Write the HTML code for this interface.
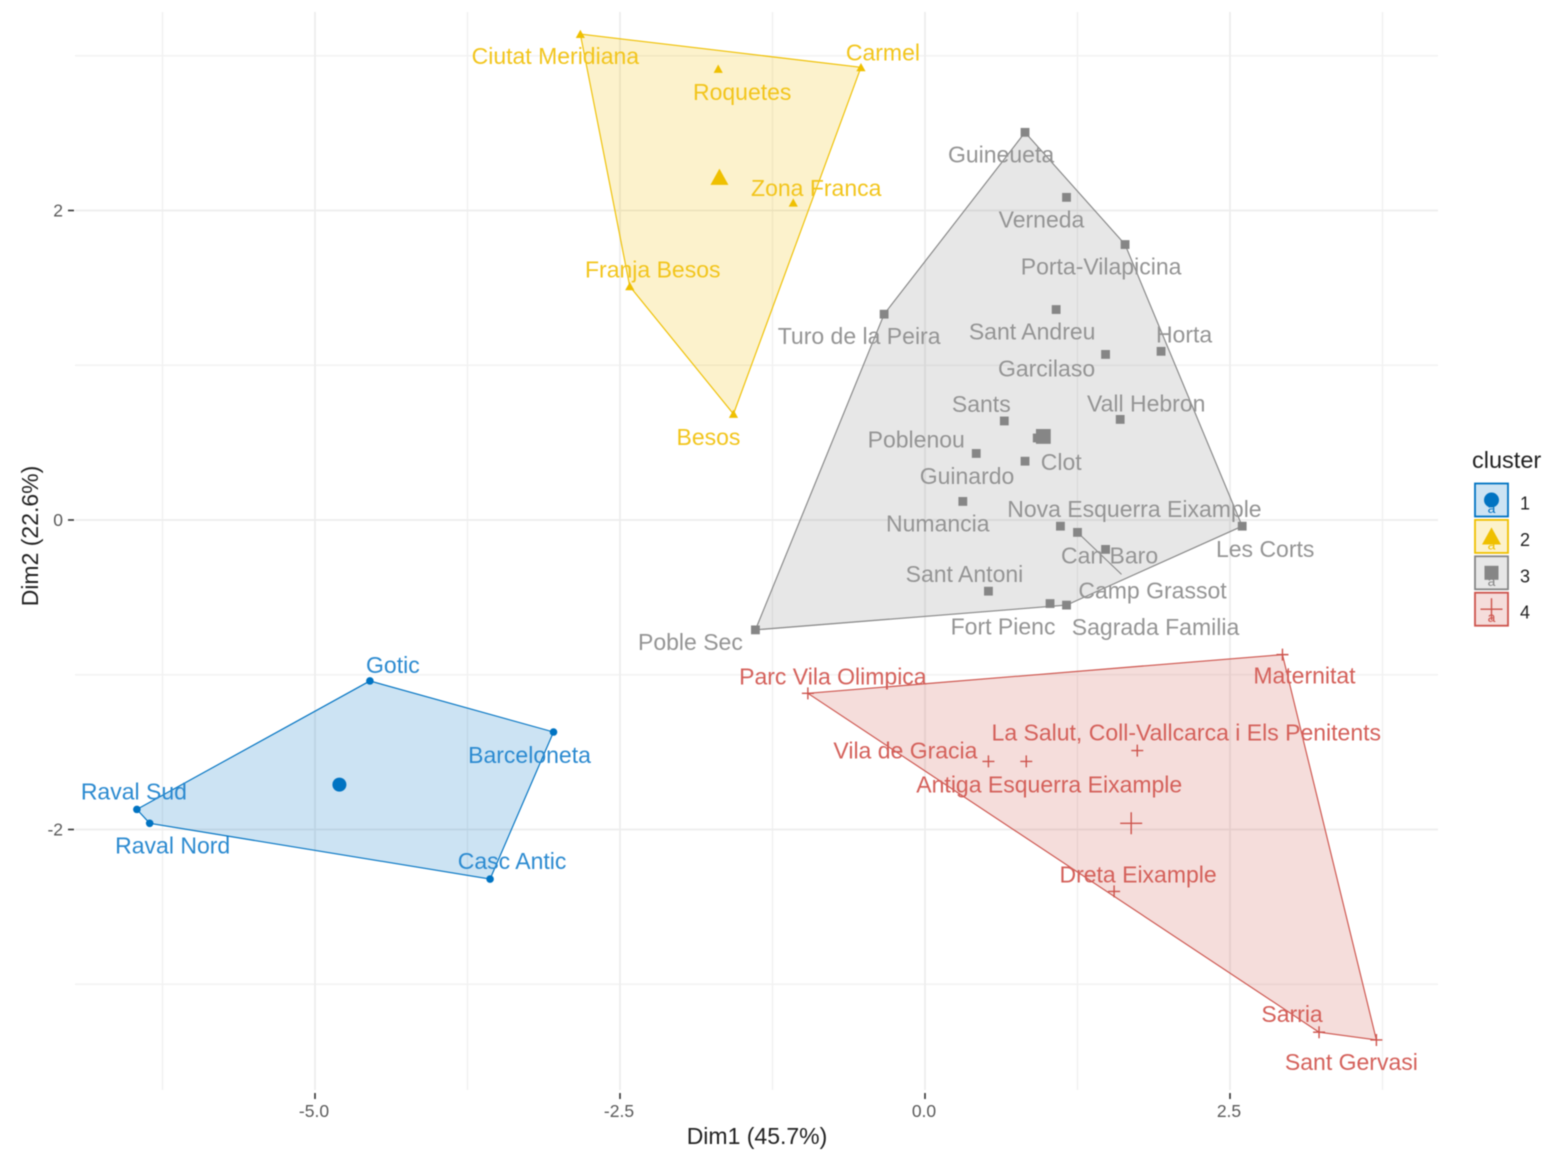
<!DOCTYPE html>
<html>
<head>
<meta charset="utf-8">
<style>
html,body{margin:0;padding:0;background:#fff;width:1549px;height:1150px;overflow:hidden}
svg{display:block;filter:blur(0.55px);font-family:"Liberation Sans",sans-serif}
</style>
</head>
<body>
<svg id="chart" xmlns="http://www.w3.org/2000/svg" width="1549" height="1150" viewBox="0 0 1549 1150"></svg>
<script>
// Cluster 1
const names1 = ["Gotic","Barceloneta","Casc Antic","Raval Nord","Raval Sud"];
const dim1c1 = [-4.55,-3.045,-3.565,-6.355,-6.46];
const dim2c1 = [-1.04,-1.37,-2.32,-1.96,-1.87];
// Cluster 2
const names2 = ["Ciutat Meridiana","Carmel","Roquetes","Zona Franca","Franja Besos","Besos"];
const dim1c2 = [-2.825,-0.525,-1.695,-1.08,-2.42,-1.57];
const dim2c2 = [3.14,2.925,2.915,2.05,1.51,0.685];
// Cluster 3
const names3 = ["Guineueta","Verneda","Porta-Vilapicina","Turo de la Peira","Sant Andreu","Garcilaso","Horta","Sants","Vall Hebron","Poblenou","Clot","Guinardo","Numancia","Nova Esquerra Eixample","Camp Grassot","Can Baro","Les Corts","Sant Antoni","Fort Pienc","Sagrada Familia","Poble Sec"];
const dim1c3 = [0.82,1.16,1.64,-0.335,1.075,1.48,1.935,0.65,1.60,0.42,0.92,0.82,0.31,1.11,1.25,1.48,2.60,0.52,1.025,1.16,-1.39];
const dim2c3 = [2.505,2.085,1.78,1.33,1.36,1.07,1.09,0.64,0.65,0.43,0.53,0.38,0.12,-0.04,-0.08,-0.19,-0.04,-0.46,-0.54,-0.55,-0.71];
// Cluster 4
const names4 = ["Parc Vila Olimpica","Maternitat","La Salut, Coll-Vallcarca i Els Penitents","Vila de Gracia","Antiga Esquerra Eixample","Dreta Eixample","Sarria","Sant Gervasi"];
const dim1c4 = [-0.96,2.93,1.74,0.52,0.83,1.55,3.23,3.70];
const dim2c4 = [-1.12,-0.87,-1.49,-1.56,-1.56,-2.40,-3.31,-3.36];
// Cluster centres
const centerDim1 = [-4.80,-1.685,0.97,1.69];
const centerDim2 = [-1.71,2.215,0.54,-1.96];
// Axis ticks
const xTickValues = [-5,-2.5,0,2.5];
const xTickLabels = ["-5.0","-2.5","0.0","2.5"];
const yTickValues = [-2,0,2];
const yTickLabels = ["-2","0","2"];
const xMinorValues = [-6.25,-3.75,-1.25,1.25,3.75];
const yMinorValues = [-3,-1,1,3];
const clusterIds = ["1","2","3","4"];
</script>
<script>
const NS = "http://www.w3.org/2000/svg";
const svg = document.getElementById("chart");
const PANEL = {l:75, r:1438, t:12, b:1090};
const xScale = v => 925 + v * 122;
const yScale = v => 520 - v * 154.75;
const colors = ["#0073C2","#EFC000","#868686","#CD534C"];
const textColors = ["#2b8ad0","#f2c51c","#949494","#d4605a"];

// Label displacement from its point, in pixels (repel layout)
const offsets1 = [[23,-16],[-24,23],[22,-18],[23,22],[-3,-18]];
const offsets2 = [[-25,22],[22,-15],[24,23],[23,-15],[23,-17],[-25,23]];
const offsets3 = [[-24,22],[-25,22],[-24,22],[-25,22],[-24,22],[-59,14],[23,-17],[-23,-17],[26,-16],[-60,-14],[24,24],[-58,15],[-25,22],[74,-17],[75,58],[4,6],[23,23],[-24,-17],[-47,23],[89,22],[-65,12]];
const offsets4 = [[25,-17],[22,21],[49,-18],[-83,-11],[23,23],[24,-17],[-27,-18],[-25,22]];

const series = [
  {names:names1, xs:dim1c1, ys:dim2c1, off:offsets1},
  {names:names2, xs:dim1c2, ys:dim2c2, off:offsets2},
  {names:names3, xs:dim1c3, ys:dim2c3, off:offsets3},
  {names:names4, xs:dim1c4, ys:dim2c4, off:offsets4}
];

function mk(tag, attrs, parent){
  const e = document.createElementNS(NS, tag);
  for (const k in attrs) e.setAttribute(k, attrs[k]);
  (parent || svg).appendChild(e);
  return e;
}

// Grid
xMinorValues.forEach(v => {
  const el = mk("line",{x1:xScale(v),x2:xScale(v),y1:PANEL.t,y2:PANEL.b,stroke:"#f2f2f2","stroke-width":1.6});
  
  
});
yMinorValues.forEach(v => {
  const el = mk("line",{x1:PANEL.l,x2:PANEL.r,y1:yScale(v),y2:yScale(v),stroke:"#f2f2f2","stroke-width":1.6});
  
  
});
xTickValues.forEach(v => {
  const el = mk("line",{x1:xScale(v),x2:xScale(v),y1:PANEL.t,y2:PANEL.b,stroke:"#ededed","stroke-width":1.8});
  
  
});
yTickValues.forEach(v => {
  const el = mk("line",{x1:PANEL.l,x2:PANEL.r,y1:yScale(v),y2:yScale(v),stroke:"#ededed","stroke-width":1.8});
  
  
});

// Ticks and tick labels
xTickValues.forEach((v,i) => {
  const t = mk("line",{x1:xScale(v),x2:xScale(v),y1:1093,y2:1099,stroke:"#333","stroke-width":1.6});
  
  
  const l = mk("text",{x:xScale(v)-1,y:1117,"text-anchor":"middle","font-size":17.5,fill:"#5a5a5a"});
  l.textContent = xTickLabels[i];
  
  
});
yTickValues.forEach((v,i) => {
  const t = mk("line",{x1:68,x2:74,y1:yScale(v),y2:yScale(v),stroke:"#333","stroke-width":1.6});
  
  
  const l = mk("text",{x:63,y:yScale(v)+6,"text-anchor":"end","font-size":17.5,fill:"#5a5a5a"});
  l.textContent = yTickLabels[i];
  
  
});

function hull(pts){
  const p = pts.slice().sort((a,b)=>a[0]-b[0]||a[1]-b[1]);
  const cross=(o,a,b)=>(a[0]-o[0])*(b[1]-o[1])-(a[1]-o[1])*(b[0]-o[0]);
  const lo=[],up=[];
  p.forEach(q=>{while(lo.length>1&&cross(lo[lo.length-2],lo[lo.length-1],q)<=0)lo.pop();lo.push(q);});
  p.slice().reverse().forEach(q=>{while(up.length>1&&cross(up[up.length-2],up[up.length-1],q)<=0)up.pop();up.push(q);});
  return lo.slice(0,-1).concat(up.slice(0,-1));
}

function marker(kind, cx, cy, size, color, parent){
  const s = size;
  if (kind === 0) return mk("circle",{cx:cx,cy:cy,r:s,fill:color},parent);
  if (kind === 1) return mk("polygon",{points:`${cx-s},${cy+s*0.85} ${cx+s},${cy+s*0.85} ${cx},${cy-s*0.95}`,fill:color},parent);
  if (kind === 2) return mk("rect",{x:cx-s,y:cy-s,width:2*s,height:2*s,fill:color},parent);
  return mk("path",{d:`M${cx-s} ${cy}H${cx+s}M${cx} ${cy-s}V${cy+s}`,stroke:color,"stroke-width":1.4,fill:"none"},parent);
}
const smallSize = [3.8,4.6,4.4,6];
const bigSize = [7,9,7.4,11];

// Hulls
series.forEach((s,k) => {
  const pts = s.xs.map((x,i)=>[xScale(x),yScale(s.ys[i])]);
  const h = hull(pts);
  const poly = mk("polygon",{points:h.map(p=>p.join(",")).join(" "),fill:colors[k],"fill-opacity":0.2,stroke:colors[k],"stroke-width":1.15,"stroke-linejoin":"round"});
  
  
});

// Points
series.forEach((s,k) => {
  s.xs.forEach((x,i) => {
    const m = marker(k,xScale(x),yScale(s.ys[i]),smallSize[k],colors[k]);
    
    
  });
  const c = marker(k,xScale(centerDim1[k]),yScale(centerDim2[k]),bigSize[k],colors[k]);
  
  
});

// Repel segment for Camp Grassot
{
  const i = names3.indexOf("Camp Grassot");
  const seg = mk("line",{x1:xScale(dim1c3[i]),y1:yScale(dim2c3[i]),x2:xScale(dim1c3[i])+44,y2:yScale(dim2c3[i])+42,stroke:"#868686","stroke-width":1.1});
  
  
}

// Labels
series.forEach((s,k) => {
  s.names.forEach((n,i) => {
    const px = xScale(s.xs[i]) + s.off[i][0];
    const py = yScale(s.ys[i]) + s.off[i][1] + 8;
    const t = mk("text",{x:px,y:py,"text-anchor":"middle","font-size":23,fill:textColors[k]});
    t.textContent = n;
    
    
  });
});

// Axis titles
const xt = mk("text",{x:757,y:1144,"text-anchor":"middle","font-size":23,fill:"#222"});
xt.textContent = "Dim1 (45.7%)";


const yt = mk("text",{x:38,y:536,"text-anchor":"middle","font-size":23,fill:"#222",transform:"rotate(-90 38 536)"});
yt.textContent = "Dim2 (22.6%)";



// Legend
const lt = mk("text",{x:1472,y:468,"font-size":23.5,fill:"#222"});
lt.textContent = "cluster";


clusterIds.forEach((id,k) => {
  const cy = 500 + k * 36.4;
  const g = mk("g",{});
  
  
  mk("rect",{x:1475,y:cy-16.5,width:33,height:33,fill:colors[k],"fill-opacity":0.2,stroke:colors[k],"stroke-width":1.8},g);
  const a = mk("text",{x:1491.5,y:cy+13,"text-anchor":"middle","font-size":14,fill:colors[k]},g);
  a.textContent = "a";
  marker(k,1491.5,cy,[7.5,9.5,7,11][k],colors[k],g);
  const l = mk("text",{x:1520,y:cy+9.5,"font-size":18,fill:"#222"},g);
  l.textContent = id;
});
</script>
</body>
</html>
